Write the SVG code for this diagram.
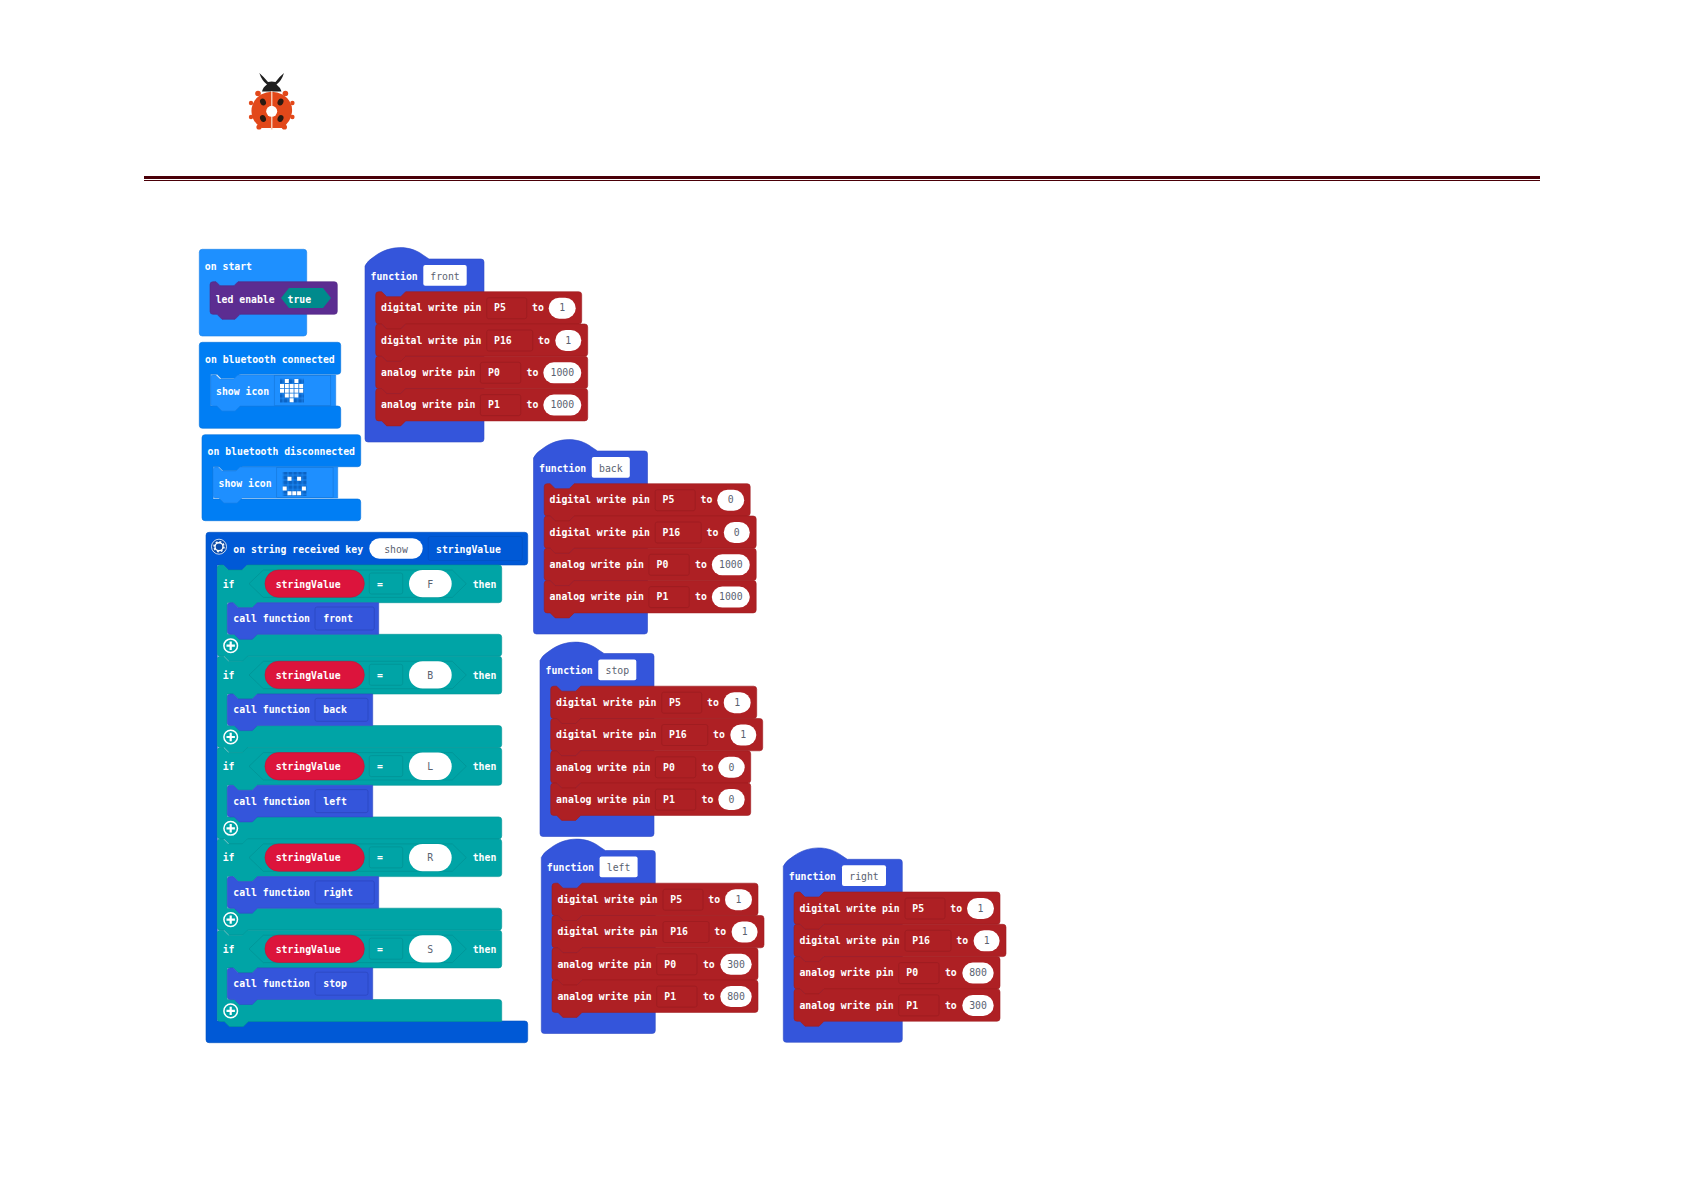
<svg xmlns="http://www.w3.org/2000/svg" width="1684" height="1191" viewBox="0 0 1684 1191">
<style>
text{font-family:"DejaVu Sans Mono","Liberation Mono",monospace;font-size:9.8px;font-weight:600;fill:#fff}
.d{fill:#5a6270;text-anchor:middle;font-weight:500}
.c{text-anchor:middle}
.red{fill:#ae2024;stroke:#9f1c20;stroke-width:.6}
.fn{fill:#3455db;stroke:#2f4cc6;stroke-width:.6}
.fb{fill:none;stroke:#2a45bd;stroke-width:.7}
.rb{fill:none;stroke:#9a1b1f;stroke-width:.7}
.tl{fill:#00a4a6;stroke:#009395;stroke-width:.6}
.tb{fill:none;stroke:#009093;stroke-width:.7}
.w{fill:#fff}
.sv{fill:#dc143c;stroke:#c41136;stroke-width:.6}
.bt{fill:#007ef4;stroke:#0071db;stroke-width:.6}
.bi{fill:#1e8fff;stroke:#1a80e6;stroke-width:.6}
.bx{fill:none;stroke:#1479dd;stroke-width:.7}
.st{fill:#0059d6;stroke:#0050c0;stroke-width:.6}
</style>
<defs>
<path id="r206" d="M0 3a3 3 0 0 1 3-3h3l5 5h14l5-5H203a3 3 0 0 1 3 3V29.300a3 3 0 0 1-3 3H30l-5 5H11l-5-5H3a3 3 0 0 1-3-3z"/>
<path id="r212" d="M0 3a3 3 0 0 1 3-3h3l5 5h14l5-5H209a3 3 0 0 1 3 3V29.300a3 3 0 0 1-3 3H30l-5 5H11l-5-5H3a3 3 0 0 1-3-3z"/>
<path id="r200" d="M0 3a3 3 0 0 1 3-3h3l5 5h14l5-5H197a3 3 0 0 1 3 3V29.300a3 3 0 0 1-3 3H30l-5 5H11l-5-5H3a3 3 0 0 1-3-3z"/>
<path id="f120" d="M0 18Q2 13 10 8C25-3 45-3 58 7L64 11H116a3 3 0 0 1 3 3V191a3 3 0 0 1-3 3H3a3 3 0 0 1-3-3z"/>
<path id="f114" d="M0 18Q2 13 10 8C25-3 45-3 58 7L64 11H111a3 3 0 0 1 3 3V191a3 3 0 0 1-3 3H3a3 3 0 0 1-3-3z"/>
<path id="hex" d="M46 5H235L249 18.700 235 32.400H46L31.700 18.700z"/>
<g id="plus"><circle cx="13.400" cy="80.700" r="6.800" fill="none" stroke="#fff" stroke-width="1.500"/><path d="M13.400 76.500v8.400M9.200 80.700h8.400" stroke="#fff" stroke-width="2.200"/></g>
<pattern id="led" width="4.800" height="4.800" patternUnits="userSpaceOnUse"><rect x=".4" y=".4" width="4" height="4" fill="#0b63c4"/></pattern>
</defs>

<g id="logo">
<path d="M259.300 73Q262 81 267 84.500Q263 87 262 91.500H281.500Q280 87 276.500 84.500Q281.500 81 284 73Q279 77 275.500 82Q271.700 81 268 82Q264 77 259.300 73z" fill="#1f1f1f"/>
<g fill="#e2481a">
<path d="M261 94.500Q271.700 89 282.500 94.500Q293 101 292 112Q291 122 282 128H261.500Q252 122 251.500 112Q251 101 261 94.500z"/>
<circle cx="258" cy="93.500" r="2.800"/><circle cx="285.400" cy="93.500" r="2.800"/>
<circle cx="251" cy="103" r="2.200"/><circle cx="292.400" cy="103" r="2.200"/>
<circle cx="251" cy="117" r="2.200"/><circle cx="292.400" cy="117" r="2.200"/>
<circle cx="259" cy="127" r="2.600"/><circle cx="284.400" cy="127" r="2.600"/>
</g>
<rect x="271" y="91" width="1.500" height="38.500" fill="#f6c3ad"/>
<circle cx="271.700" cy="111.300" r="5.500" fill="#fff"/>
<ellipse cx="263" cy="102" rx="2.800" ry="3.600" transform="rotate(-25 263 102)" fill="#2a1a12"/>
<ellipse cx="280.500" cy="102" rx="2.800" ry="3.600" transform="rotate(25 280.500 102)" fill="#2a1a12"/>
<ellipse cx="263" cy="118.500" rx="2.800" ry="3.600" transform="rotate(-25 263 118.500)" fill="#2a1a12"/>
<ellipse cx="280.500" cy="118.500" rx="2.800" ry="3.600" transform="rotate(25 280.500 118.500)" fill="#2a1a12"/>
</g>
<g id="rule">
<rect x="144" y="176" width="1396" height="3" fill="#4a0008"/>
<rect x="144" y="180" width="1396" height="1" fill="#4a0008"/>
</g>

<g id="on-start">
<rect x="199.300" y="249.300" width="107.400" height="86.700" rx="3" fill="#1e90ff" stroke="#1a82e8" stroke-width=".6"/>
<text x="204.800" y="270">on start</text>
<path d="M210 284.700a3 3 0 0 1 3-3h3l4 4h14l4-4H334.300a3 3 0 0 1 3 3V311.300a3 3 0 0 1-3 3H240l-5 5H222l-5-5H213a3 3 0 0 1-3-3z" fill="#5c2d91" stroke="#532983" stroke-width=".6"/>
<text x="215.700" y="302.500">led enable</text>
<path d="M281 298l8-10h34l8 10-8 10h-34z" fill="#008a8c"/>
<text x="287.500" y="302.500">true</text>
</g>

<g id="on-bluetooth-connected">
<path class="bt" d="M202.300 342.300H337.700a3 3 0 0 1 3 3V371.300a3 3 0 0 1-3 3H240l-4 4H221l-4-4H210.700V406H337.700a3 3 0 0 1 3 3V425.300a3 3 0 0 1-3 3H202.300a3 3 0 0 1-3-3V345.300a3 3 0 0 1 3-3z"/>
<text x="205" y="362.500">on bluetooth connected</text>
<path class="bi" d="M210.700 377a2 2 0 0 1 2-2h3l4 4h14l4-4H335.700V406H240l-5 5H222l-5-5H212.700a2 2 0 0 1-2-2z"/>
<rect class="bx" x="274.300" y="375.500" width="56.400" height="30"/>
<text x="216" y="394.500">show icon</text>
<g><rect x="280" y="378.700" width="24" height="24" fill="url(#led)"/>
<path d="M284.800 379.100h4v4h-4zM294.400 379.100h4v4h-4zM280 383.900h4v4h-4zM284.800 383.900h4v4h-4zM289.600 383.900h4v4h-4zM294.400 383.900h4v4h-4zM299.200 383.900h4v4h-4zM280 388.700h4v4h-4zM284.800 388.700h4v4h-4zM289.600 388.700h4v4h-4zM294.400 388.700h4v4h-4zM299.200 388.700h4v4h-4zM284.800 393.500h4v4h-4zM289.600 393.500h4v4h-4zM294.400 393.500h4v4h-4zM289.600 398.300h4v4h-4z" fill="#fff"/></g>
</g>

<g id="on-bluetooth-disconnected">
<path class="bt" d="M205 434.700H357.700a3 3 0 0 1 3 3V463.700a3 3 0 0 1-3 3H242l-4 4H223l-4-4H213V499H357.700a3 3 0 0 1 3 3V517.700a3 3 0 0 1-3 3H205a3 3 0 0 1-3-3V437.700a3 3 0 0 1 3-3z"/>
<text x="207.500" y="455">on bluetooth disconnected</text>
<path class="bi" d="M213 469a2 2 0 0 1 2-2h3l4 4h14l4-4H337.700V498H242l-5 5H224l-5-5H215a2 2 0 0 1-2-2z"/>
<rect class="bx" x="276.700" y="467.500" width="56.400" height="30"/>
<text x="218.500" y="487">show icon</text>
<g><rect x="282.700" y="472" width="24" height="24" fill="url(#led)"/>
<path d="M287.500 476.800h4v4h-4zM297.100 476.800h4v4h-4zM282.700 486.400h4v4h-4zM301.900 486.400h4v4h-4zM287.500 491.200h4v4h-4zM292.300 491.200h4v4h-4zM297.100 491.200h4v4h-4z" fill="#fff"/></g>
</g>

<g id="on-string-received">
<path class="st" d="M209 532.300H524.700a3 3 0 0 1 3 3V562a3 3 0 0 1-3 3H247.300l-5 5H228.300l-5-5H217.300V1021H524.700a3 3 0 0 1 3 3v15.700a3 3 0 0 1-3 3H209a3 3 0 0 1-3-3V535.300a3 3 0 0 1 3-3z"/>
<circle cx="219" cy="546.700" r="7.500" fill="#0a4aa8" stroke="#fff" stroke-width=".8"/>
<circle cx="219" cy="546.700" r="4" fill="none" stroke="#fff" stroke-width="1.400"/>
<circle cx="219" cy="546.700" r="5" fill="none" stroke="#fff" stroke-width="1.500" stroke-dasharray="1.900 2"/>
<text x="233.300" y="552.800">on string received key</text>
<rect class="w" x="369.300" y="538.300" width="53.400" height="20.400" rx="10.200"/>
<text class="d" x="396" y="552.800">show</text>
<rect x="428.300" y="536.500" width="94" height="24" rx="2" fill="none" stroke="#0050c0" stroke-width=".7"/>
<text x="436" y="552.800">stringValue</text>
</g>

<g id="if-block-f" transform="translate(217.300 565)">
<path class="tl" d="M0 3a3 3 0 0 1 3-3H6l5 5h14l5-5H281.400a3 3 0 0 1 3 3V34.700a3 3 0 0 1-3 3H40l-5 5H21l-5-5H10V69.300H281.400a3 3 0 0 1 3 3V88.300a3 3 0 0 1-3 3H31l-5 5H12l-5-5H3a3 3 0 0 1-3-3z"/>
<use href="#hex" class="tb"/>
<use href="#plus"/>
<text x="5.400" y="22.500">if</text>
<rect class="sv" x="47.700" y="5" width="99.300" height="27.300" rx="13.600"/>
<text x="58.400" y="22.500">stringValue</text>
<rect class="tb" x="152" y="8" width="33.400" height="21" rx="2"/>
<text class="c" x="162.700" y="22.500">=</text>
<rect class="w" x="191.700" y="5" width="42.700" height="27.300" rx="13.600"/>
<text class="d" x="213" y="22.500">F</text>
<text x="255.400" y="22.500">then</text>
<g id="call-front" transform="translate(10 37.700)"><path d="M0 3a3 3 0 0 1 3-3H6l5 5h14l5-5H151.400V31.600H30l-5 5H12l-5-5H3a3 3 0 0 1-3-3z" fill="#3455db" stroke="#2f4cc6" stroke-width=".6"/><rect class="fb" x="87.700" y="4.300" width="59.300" height="23" rx="2"/><text x="6" y="19.400">call function</text><text x="96" y="19.400">front</text></g>
</g>
<g id="if-block-b" transform="translate(217.300 656.300)">
<path class="tl" d="M0 3a3 3 0 0 1 3-3H6l5 5h14l5-5H281.400a3 3 0 0 1 3 3V34.700a3 3 0 0 1-3 3H40l-5 5H21l-5-5H10V69.300H281.400a3 3 0 0 1 3 3V88.300a3 3 0 0 1-3 3H31l-5 5H12l-5-5H3a3 3 0 0 1-3-3z"/>
<use href="#hex" class="tb"/>
<use href="#plus"/>
<text x="5.400" y="22.500">if</text>
<rect class="sv" x="47.700" y="5" width="99.300" height="27.300" rx="13.600"/>
<text x="58.400" y="22.500">stringValue</text>
<rect class="tb" x="152" y="8" width="33.400" height="21" rx="2"/>
<text class="c" x="162.700" y="22.500">=</text>
<rect class="w" x="191.700" y="5" width="42.700" height="27.300" rx="13.600"/>
<text class="d" x="213" y="22.500">B</text>
<text x="255.400" y="22.500">then</text>
<g id="call-back" transform="translate(10 37.700)"><path d="M0 3a3 3 0 0 1 3-3H6l5 5h14l5-5H145.400V31.600H30l-5 5H12l-5-5H3a3 3 0 0 1-3-3z" fill="#3455db" stroke="#2f4cc6" stroke-width=".6"/><rect class="fb" x="87.700" y="4.300" width="53" height="23" rx="2"/><text x="6" y="19.400">call function</text><text x="96" y="19.400">back</text></g>
</g>
<g id="if-block-l" transform="translate(217.300 747.600)">
<path class="tl" d="M0 3a3 3 0 0 1 3-3H6l5 5h14l5-5H281.400a3 3 0 0 1 3 3V34.700a3 3 0 0 1-3 3H40l-5 5H21l-5-5H10V69.300H281.400a3 3 0 0 1 3 3V88.300a3 3 0 0 1-3 3H31l-5 5H12l-5-5H3a3 3 0 0 1-3-3z"/>
<use href="#hex" class="tb"/>
<use href="#plus"/>
<text x="5.400" y="22.500">if</text>
<rect class="sv" x="47.700" y="5" width="99.300" height="27.300" rx="13.600"/>
<text x="58.400" y="22.500">stringValue</text>
<rect class="tb" x="152" y="8" width="33.400" height="21" rx="2"/>
<text class="c" x="162.700" y="22.500">=</text>
<rect class="w" x="191.700" y="5" width="42.700" height="27.300" rx="13.600"/>
<text class="d" x="213" y="22.500">L</text>
<text x="255.400" y="22.500">then</text>
<g id="call-left" transform="translate(10 37.700)"><path d="M0 3a3 3 0 0 1 3-3H6l5 5h14l5-5H145.400V31.600H30l-5 5H12l-5-5H3a3 3 0 0 1-3-3z" fill="#3455db" stroke="#2f4cc6" stroke-width=".6"/><rect class="fb" x="87.700" y="4.300" width="53" height="23" rx="2"/><text x="6" y="19.400">call function</text><text x="96" y="19.400">left</text></g>
</g>
<g id="if-block-r" transform="translate(217.300 838.900)">
<path class="tl" d="M0 3a3 3 0 0 1 3-3H6l5 5h14l5-5H281.400a3 3 0 0 1 3 3V34.700a3 3 0 0 1-3 3H40l-5 5H21l-5-5H10V69.300H281.400a3 3 0 0 1 3 3V88.300a3 3 0 0 1-3 3H31l-5 5H12l-5-5H3a3 3 0 0 1-3-3z"/>
<use href="#hex" class="tb"/>
<use href="#plus"/>
<text x="5.400" y="22.500">if</text>
<rect class="sv" x="47.700" y="5" width="99.300" height="27.300" rx="13.600"/>
<text x="58.400" y="22.500">stringValue</text>
<rect class="tb" x="152" y="8" width="33.400" height="21" rx="2"/>
<text class="c" x="162.700" y="22.500">=</text>
<rect class="w" x="191.700" y="5" width="42.700" height="27.300" rx="13.600"/>
<text class="d" x="213" y="22.500">R</text>
<text x="255.400" y="22.500">then</text>
<g id="call-right" transform="translate(10 37.700)"><path d="M0 3a3 3 0 0 1 3-3H6l5 5h14l5-5H151.400V31.600H30l-5 5H12l-5-5H3a3 3 0 0 1-3-3z" fill="#3455db" stroke="#2f4cc6" stroke-width=".6"/><rect class="fb" x="87.700" y="4.300" width="59.300" height="23" rx="2"/><text x="6" y="19.400">call function</text><text x="96" y="19.400">right</text></g>
</g>
<g id="if-block-s" transform="translate(217.300 930.200)">
<path class="tl" d="M0 3a3 3 0 0 1 3-3H6l5 5h14l5-5H281.400a3 3 0 0 1 3 3V34.700a3 3 0 0 1-3 3H40l-5 5H21l-5-5H10V69.300H281.400a3 3 0 0 1 3 3V91.300H31l-5 5H12l-5-5H3a3 3 0 0 1-3-3z"/>
<use href="#hex" class="tb"/>
<use href="#plus"/>
<text x="5.400" y="22.500">if</text>
<rect class="sv" x="47.700" y="5" width="99.300" height="27.300" rx="13.600"/>
<text x="58.400" y="22.500">stringValue</text>
<rect class="tb" x="152" y="8" width="33.400" height="21" rx="2"/>
<text class="c" x="162.700" y="22.500">=</text>
<rect class="w" x="191.700" y="5" width="42.700" height="27.300" rx="13.600"/>
<text class="d" x="213" y="22.500">S</text>
<text x="255.400" y="22.500">then</text>
<g id="call-stop" transform="translate(10 37.700)"><path d="M0 3a3 3 0 0 1 3-3H6l5 5h14l5-5H145.400V31.600H30l-5 5H12l-5-5H3a3 3 0 0 1-3-3z" fill="#3455db" stroke="#2f4cc6" stroke-width=".6"/><rect class="fb" x="87.700" y="4.300" width="53" height="23" rx="2"/><text x="6" y="19.400">call function</text><text x="96" y="19.400">stop</text></g>
</g>

<g id="function-front" transform="translate(365 248)">
<use href="#f120" class="fn"/>
<text x="5.500" y="31.800">function</text>
<rect class="w" x="58.300" y="17" width="43.400" height="20.700" rx="2"/>
<text class="d" x="80" y="31.800">front</text>
<g transform="translate(10.700 43.700)"><use href="#r206" class="red"/><rect class="rb" x="111" y="6" width="40" height="21" rx="2"/><text x="5.400" y="19.800">digital write pin</text><text x="118.300" y="19.800">P5</text><text x="156.300" y="19.800">to</text><rect class="w" x="173" y="6" width="27" height="21" rx="10.500"/><text class="d" x="186.500" y="19.800">1</text></g>
<g transform="translate(10.700 76)"><use href="#r212" class="red"/><rect class="rb" x="111" y="6" width="46" height="21" rx="2"/><text x="5.400" y="19.800">digital write pin</text><text x="118.300" y="19.800">P16</text><text x="162.300" y="19.800">to</text><rect class="w" x="179.600" y="6" width="26" height="21" rx="10.500"/><text class="d" x="192.600" y="19.800">1</text></g>
<g transform="translate(10.700 108.300)"><use href="#r212" class="red"/><rect class="rb" x="104.700" y="6" width="40.300" height="21" rx="2"/><text x="5.400" y="19.800">analog write pin</text><text x="112.300" y="19.800">P0</text><text x="150.900" y="19.800">to</text><rect class="w" x="167.600" y="6" width="38" height="21" rx="10.500"/><text class="d" x="186.600" y="19.800">1000</text></g>
<g transform="translate(10.700 140.600)"><use href="#r212" class="red"/><rect class="rb" x="104.700" y="6" width="40.300" height="21" rx="2"/><text x="5.400" y="19.800">analog write pin</text><text x="112.300" y="19.800">P1</text><text x="150.900" y="19.800">to</text><rect class="w" x="167.600" y="6" width="38" height="21" rx="10.500"/><text class="d" x="186.600" y="19.800">1000</text></g>
</g>

<g id="function-back" transform="translate(533.500 440)">
<use href="#f114" class="fn"/>
<text x="5.500" y="31.800">function</text>
<rect class="w" x="58.300" y="17" width="38" height="20.700" rx="2"/>
<text class="d" x="77.300" y="31.800">back</text>
<g transform="translate(10.700 43.700)"><use href="#r206" class="red"/><rect class="rb" x="111" y="6" width="40" height="21" rx="2"/><text x="5.400" y="19.800">digital write pin</text><text x="118.300" y="19.800">P5</text><text x="156.300" y="19.800">to</text><rect class="w" x="173" y="6" width="27" height="21" rx="10.500"/><text class="d" x="186.500" y="19.800">0</text></g>
<g transform="translate(10.700 76)"><use href="#r212" class="red"/><rect class="rb" x="111" y="6" width="46" height="21" rx="2"/><text x="5.400" y="19.800">digital write pin</text><text x="118.300" y="19.800">P16</text><text x="162.300" y="19.800">to</text><rect class="w" x="179.600" y="6" width="26" height="21" rx="10.500"/><text class="d" x="192.600" y="19.800">0</text></g>
<g transform="translate(10.700 108.300)"><use href="#r212" class="red"/><rect class="rb" x="104.700" y="6" width="40.300" height="21" rx="2"/><text x="5.400" y="19.800">analog write pin</text><text x="112.300" y="19.800">P0</text><text x="150.900" y="19.800">to</text><rect class="w" x="167.600" y="6" width="38" height="21" rx="10.500"/><text class="d" x="186.600" y="19.800">1000</text></g>
<g transform="translate(10.700 140.600)"><use href="#r212" class="red"/><rect class="rb" x="104.700" y="6" width="40.300" height="21" rx="2"/><text x="5.400" y="19.800">analog write pin</text><text x="112.300" y="19.800">P1</text><text x="150.900" y="19.800">to</text><rect class="w" x="167.600" y="6" width="38" height="21" rx="10.500"/><text class="d" x="186.600" y="19.800">1000</text></g>
</g>

<g id="function-stop" transform="translate(540 642.500)">
<use href="#f114" class="fn"/>
<text x="5.500" y="31.800">function</text>
<rect class="w" x="58.300" y="17" width="38" height="20.700" rx="2"/>
<text class="d" x="77.300" y="31.800">stop</text>
<g transform="translate(10.700 43.700)"><use href="#r206" class="red"/><rect class="rb" x="111" y="6" width="40" height="21" rx="2"/><text x="5.400" y="19.800">digital write pin</text><text x="118.300" y="19.800">P5</text><text x="156.300" y="19.800">to</text><rect class="w" x="173" y="6" width="27" height="21" rx="10.500"/><text class="d" x="186.500" y="19.800">1</text></g>
<g transform="translate(10.700 76)"><use href="#r212" class="red"/><rect class="rb" x="111" y="6" width="46" height="21" rx="2"/><text x="5.400" y="19.800">digital write pin</text><text x="118.300" y="19.800">P16</text><text x="162.300" y="19.800">to</text><rect class="w" x="179.600" y="6" width="26" height="21" rx="10.500"/><text class="d" x="192.600" y="19.800">1</text></g>
<g transform="translate(10.700 108.300)"><use href="#r200" class="red"/><rect class="rb" x="104.700" y="6" width="40.300" height="21" rx="2"/><text x="5.400" y="19.800">analog write pin</text><text x="112.300" y="19.800">P0</text><text x="150.900" y="19.800">to</text><rect class="w" x="167.600" y="6" width="26.400" height="21" rx="10.500"/><text class="d" x="180.800" y="19.800">0</text></g>
<g transform="translate(10.700 140.600)"><use href="#r200" class="red"/><rect class="rb" x="104.700" y="6" width="40.300" height="21" rx="2"/><text x="5.400" y="19.800">analog write pin</text><text x="112.300" y="19.800">P1</text><text x="150.900" y="19.800">to</text><rect class="w" x="167.600" y="6" width="26.400" height="21" rx="10.500"/><text class="d" x="180.800" y="19.800">0</text></g>
</g>

<g id="function-left" transform="translate(541.300 839.500)">
<use href="#f114" class="fn"/>
<text x="5.500" y="31.800">function</text>
<rect class="w" x="58.300" y="17" width="38" height="20.700" rx="2"/>
<text class="d" x="77.300" y="31.800">left</text>
<g transform="translate(10.700 43.700)"><use href="#r206" class="red"/><rect class="rb" x="111" y="6" width="40" height="21" rx="2"/><text x="5.400" y="19.800">digital write pin</text><text x="118.300" y="19.800">P5</text><text x="156.300" y="19.800">to</text><rect class="w" x="173" y="6" width="27" height="21" rx="10.500"/><text class="d" x="186.500" y="19.800">1</text></g>
<g transform="translate(10.700 76)"><use href="#r212" class="red"/><rect class="rb" x="111" y="6" width="46" height="21" rx="2"/><text x="5.400" y="19.800">digital write pin</text><text x="118.300" y="19.800">P16</text><text x="162.300" y="19.800">to</text><rect class="w" x="179.600" y="6" width="26" height="21" rx="10.500"/><text class="d" x="192.600" y="19.800">1</text></g>
<g transform="translate(10.700 108.300)"><use href="#r206" class="red"/><rect class="rb" x="104.700" y="6" width="40.300" height="21" rx="2"/><text x="5.400" y="19.800">analog write pin</text><text x="112.300" y="19.800">P0</text><text x="150.900" y="19.800">to</text><rect class="w" x="168.300" y="6" width="31.400" height="21" rx="10.500"/><text class="d" x="184" y="19.800">300</text></g>
<g transform="translate(10.700 140.600)"><use href="#r206" class="red"/><rect class="rb" x="104.700" y="6" width="40.300" height="21" rx="2"/><text x="5.400" y="19.800">analog write pin</text><text x="112.300" y="19.800">P1</text><text x="150.900" y="19.800">to</text><rect class="w" x="168.300" y="6" width="31.400" height="21" rx="10.500"/><text class="d" x="184" y="19.800">800</text></g>
</g>

<g id="function-right" transform="translate(783.300 848.300)">
<use href="#f120" class="fn"/>
<text x="5.500" y="31.800">function</text>
<rect class="w" x="58.700" y="17" width="44" height="20.700" rx="2"/>
<text class="d" x="80.700" y="31.800">right</text>
<g transform="translate(10.700 43.700)"><use href="#r206" class="red"/><rect class="rb" x="111" y="6" width="40" height="21" rx="2"/><text x="5.400" y="19.800">digital write pin</text><text x="118.300" y="19.800">P5</text><text x="156.300" y="19.800">to</text><rect class="w" x="173" y="6" width="27" height="21" rx="10.500"/><text class="d" x="186.500" y="19.800">1</text></g>
<g transform="translate(10.700 76)"><use href="#r212" class="red"/><rect class="rb" x="111" y="6" width="46" height="21" rx="2"/><text x="5.400" y="19.800">digital write pin</text><text x="118.300" y="19.800">P16</text><text x="162.300" y="19.800">to</text><rect class="w" x="179.600" y="6" width="26" height="21" rx="10.500"/><text class="d" x="192.600" y="19.800">1</text></g>
<g transform="translate(10.700 108.300)"><use href="#r206" class="red"/><rect class="rb" x="104.700" y="6" width="40.300" height="21" rx="2"/><text x="5.400" y="19.800">analog write pin</text><text x="112.300" y="19.800">P0</text><text x="150.900" y="19.800">to</text><rect class="w" x="168.300" y="6" width="31.400" height="21" rx="10.500"/><text class="d" x="184" y="19.800">800</text></g>
<g transform="translate(10.700 140.600)"><use href="#r206" class="red"/><rect class="rb" x="104.700" y="6" width="40.300" height="21" rx="2"/><text x="5.400" y="19.800">analog write pin</text><text x="112.300" y="19.800">P1</text><text x="150.900" y="19.800">to</text><rect class="w" x="168.300" y="6" width="31.400" height="21" rx="10.500"/><text class="d" x="184" y="19.800">300</text></g>
</g>
</svg>
